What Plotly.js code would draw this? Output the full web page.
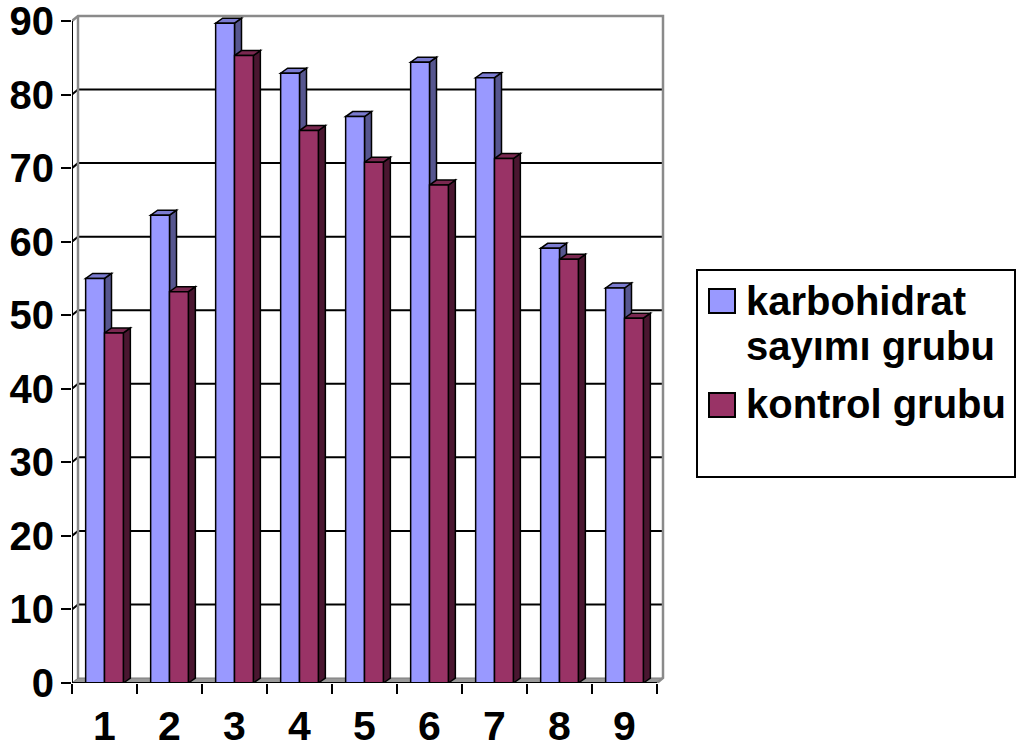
<!DOCTYPE html>
<html>
<head>
<meta charset="utf-8">
<script src="https://cdn.plot.ly/plotly-3.0.1.min.js"></script>
<style>
  html, body { margin: 0; padding: 0; background: #ffffff; }
  #chart { width: 1022px; height: 751px; }
</style>
</head>
<body>
<div id="chart"></div>
<script>
// Category labels along the x axis
const categories = ['1', '2', '3', '4', '5', '6', '7', '8', '9'];
// Series values
const karbohidratSayimi = [55.0, 63.6, 89.7, 82.9, 77.0, 84.4, 82.3, 59.1, 53.7];
const kontrolGrubu = [47.6, 53.2, 85.3, 75.1, 70.8, 67.7, 71.3, 57.6, 49.6];
// Series names and y-axis ticks
const seriesNames = ['karbohidrat', 'sayımı grubu', 'kontrol grubu'];
const yTicks = [0, 10, 20, 30, 40, 50, 60, 70, 80, 90];

// Page geometry: the front plane of the box runs from 72 to 657 px across
// and from 21 (value 90) to 683 (value 0) px down; the plot area is a bit
// larger so the box walls and bar tops drawn behind it are not clipped.
const W = 1022, H = 751;
const FRONT = { left: 72, right: 657, top: 21, bottom: 683 };
const M = { l: FRONT.left, r: W - 672, t: 8, b: H - FRONT.bottom };
const Y_MAX = 90;
const X_MIN = 0.5, X_MAX = categories.length + 0.5;
const pxPerY = (FRONT.bottom - FRONT.top) / Y_MAX;
const pxPerX = (FRONT.right - FRONT.left) / (X_MAX - X_MIN);
const plotW = W - M.l - M.r;
const plotH = H - M.t - M.b;
const yRangeTop = plotH / pxPerY;
const xRangeRight = X_MIN + plotW / pxPerX;
const frontW = FRONT.right - FRONT.left;

// 3D look: wall depth and bar depth in pixels
const WALL_DX = 6, WALL_DY = 5;
const BAR_DX = 7, BAR_DY = 5;
const BAR_W = 0.29;

const FONT = 'Liberation Sans, Arial, sans-serif';
const colors = {
  blue: '#9999ff', blueSide: '#56568f', blueTop: '#7b7bd0',
  red: '#993366', redSide: '#4a1630', redTop: '#7a2850'
};

const xPos = categories.map((c, i) => i + 1);

const traces = [
  {
    type: 'bar', name: seriesNames[0] + ' ' + seriesNames[1],
    x: xPos, y: karbohidratSayimi, width: BAR_W, offset: -BAR_W,
    marker: { color: colors.blue, line: { color: '#000', width: 1.5 } },
    hoverinfo: 'y'
  },
  {
    type: 'bar', name: seriesNames[2],
    x: xPos, y: kontrolGrubu, width: BAR_W, offset: 0,
    marker: { color: colors.red, line: { color: '#000', width: 1.5 } },
    hoverinfo: 'y'
  }
];

const shapes = [];
const wallDy = WALL_DY / pxPerY;

// Floor of the chart box
shapes.push({
  type: 'path', layer: 'below', xref: 'x', yref: 'y',
  xsizemode: 'pixel', xanchor: X_MIN,
  path: `M0,0 L${WALL_DX},${wallDy} L${frontW + WALL_DX},${wallDy} L${frontW},0 Z`,
  fillcolor: '#9a9a9a', line: { color: '#7a7a7a', width: 1 }
});

// Back-wall gridlines, with the short diagonal across the side wall
yTicks.filter(v => v > 0 && v < Y_MAX).forEach(v => {
  shapes.push({
    type: 'path', layer: 'below', xref: 'x', yref: 'y',
    xsizemode: 'pixel', xanchor: X_MIN,
    path: `M0,${v} L${WALL_DX},${v + wallDy} L${frontW + WALL_DX},${v + wallDy}`,
    line: { color: '#000', width: 2 }
  });
});

// Back wall edges (top, left corner, right side)
shapes.push({
  type: 'path', layer: 'below', xref: 'x', yref: 'y',
  xsizemode: 'pixel', xanchor: X_MIN,
  path: `M0,${Y_MAX} L${WALL_DX},${Y_MAX + wallDy} L${frontW + WALL_DX},${Y_MAX + wallDy} L${frontW + WALL_DX},${wallDy} L${frontW},0`,
  line: { color: '#8a8a8a', width: 2.5 }
});
shapes.push({
  type: 'path', layer: 'below', xref: 'x', yref: 'y',
  xsizemode: 'pixel', xanchor: X_MIN,
  path: `M${WALL_DX},${Y_MAX + wallDy} L${WALL_DX},${wallDy}`,
  line: { color: '#8a8a8a', width: 2.5 }
});

// Side and top faces of each bar
const barPx = BAR_W * pxPerX;
const barDy = BAR_DY / pxPerY;
function addFaces(values, offset, side, top) {
  values.forEach((v, i) => {
    const right = xPos[i] + offset + BAR_W;
    shapes.push({
      type: 'path', layer: 'below', xref: 'x', yref: 'y',
      xsizemode: 'pixel', xanchor: right,
      path: `M0,0 L0,${v} L${BAR_DX},${v + barDy} L${BAR_DX},${barDy} Z`,
      fillcolor: side, line: { color: '#000', width: 1.5 }
    });
    shapes.push({
      type: 'path', layer: 'below', xref: 'x', yref: 'y',
      xsizemode: 'pixel', xanchor: right,
      path: `M${-barPx},${v} L0,${v} L${BAR_DX},${v + barDy} L${-barPx + BAR_DX},${v + barDy} Z`,
      fillcolor: top, line: { color: '#000', width: 1.5 }
    });
  });
}
addFaces(karbohidratSayimi, -BAR_W, colors.blueSide, colors.blueTop);
addFaces(kontrolGrubu, 0, colors.redSide, colors.redTop);

// Front axis lines of the box
shapes.push({
  type: 'line', layer: 'above', xref: 'x', yref: 'y',
  x0: X_MIN, x1: X_MIN, y0: 0, y1: Y_MAX,
  line: { color: '#000', width: 2 }
});
shapes.push({
  type: 'line', layer: 'above', xref: 'x', yref: 'y',
  x0: X_MIN, x1: X_MAX, y0: 0, y1: 0,
  line: { color: '#000', width: 2 }
});

// Legend, drawn in page pixels converted to paper fractions
const px2x = p => (p - M.l) / plotW;
const py2y = p => (H - M.b - p) / plotH;
shapes.push({
  type: 'rect', xref: 'paper', yref: 'paper', layer: 'above',
  x0: px2x(697), x1: px2x(1015), y0: py2y(477), y1: py2y(270),
  fillcolor: 'rgba(255,255,255,0)', line: { color: '#000', width: 2 }
});
const legendItems = [
  { color: colors.blue, top: 289 },
  { color: colors.red, top: 393 }
];
legendItems.forEach(it => {
  shapes.push({
    type: 'rect', xref: 'paper', yref: 'paper', layer: 'above',
    x0: px2x(709), x1: px2x(735), y0: py2y(it.top + 24), y1: py2y(it.top),
    fillcolor: it.color, line: { color: '#000', width: 2 }
  });
});
const legendLines = [
  { text: seriesNames[0], cy: 301 },
  { text: seriesNames[1], cy: 346 },
  { text: seriesNames[2], cy: 404 }
];
const annotations = legendLines.map(l => ({
  xref: 'paper', yref: 'paper', x: px2x(744), y: py2y(l.cy),
  xanchor: 'left', yanchor: 'middle', showarrow: false,
  text: l.text,
  font: { family: FONT, size: 40, color: '#000', weight: 'bold' }
}));

const layout = {
  width: W, height: H,
  margin: M,
  paper_bgcolor: '#ffffff', plot_bgcolor: 'rgba(0,0,0,0)',
  showlegend: false,
  barmode: 'overlay',
  xaxis: {
    range: [X_MIN, xRangeRight], tickmode: 'array', tickvals: xPos, ticktext: categories,
    ticks: '', showgrid: false, zeroline: false, showline: false,
    ticklabelstandoff: 15, ticklabeloverflow: 'allow',
    tickfont: { family: FONT, size: 41, color: '#000', weight: 'bold' },
    minor: {
      tickmode: 'array',
      tickvals: xPos.map(x => x - 0.5).concat([X_MAX]),
      ticks: 'outside', ticklen: 10, tickwidth: 2, tickcolor: '#000', showgrid: false
    }
  },
  yaxis: {
    range: [0, yRangeTop], tickmode: 'array', tickvals: yTicks,
    ticks: 'outside', ticklen: 10, tickwidth: 2, tickcolor: '#000',
    showgrid: false, zeroline: false, showline: false,
    ticklabelstandoff: -1, ticklabeloverflow: 'allow',
    tickfont: { family: FONT, size: 40, color: '#000', weight: 'bold' }
  },
  shapes: shapes,
  annotations: annotations
};

Plotly.newPlot('chart', traces, layout, { displayModeBar: false, staticPlot: true });
</script>
</body>
</html>
